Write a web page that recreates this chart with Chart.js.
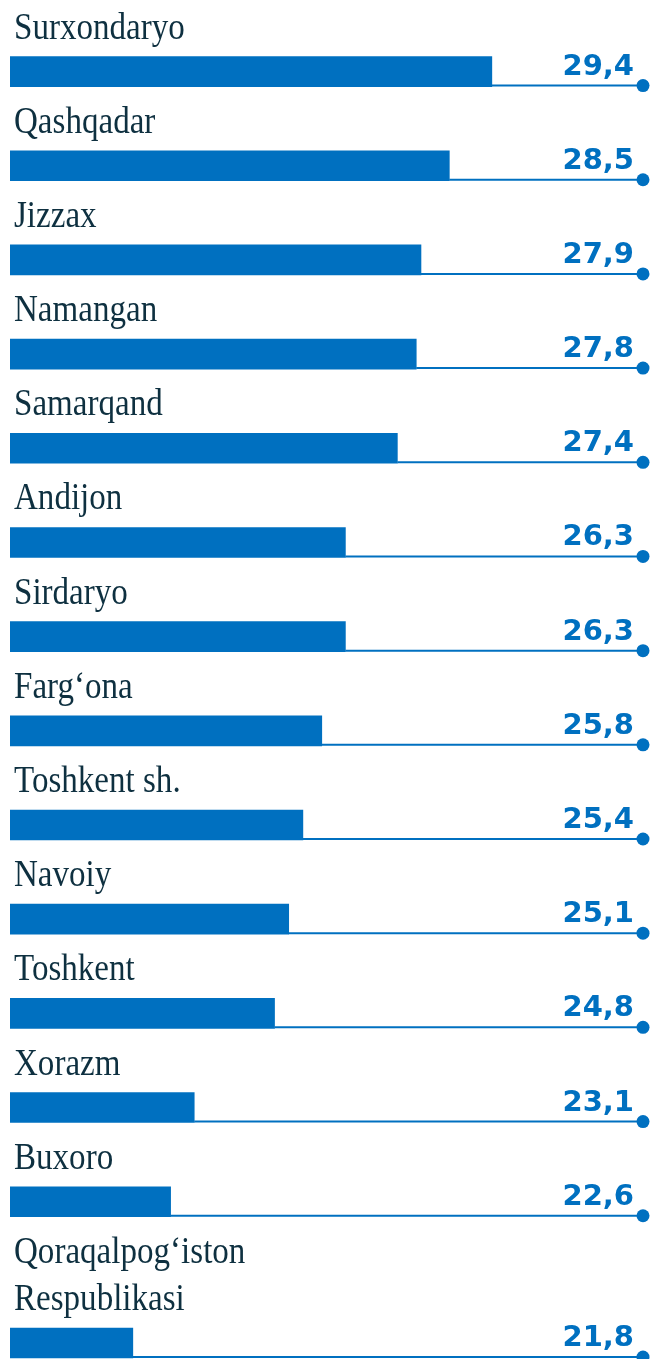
<!DOCTYPE html>
<html>
<head>
<meta charset="utf-8">
<script src="https://cdn.jsdelivr.net/npm/chart.js@4/dist/chart.umd.min.js"></script>
<style>
  html, body { margin: 0; padding: 0; background: #fff; }
  #wrap { width: 650px; height: 1359px; position: relative; }
</style>
</head>
<body>
<div id="wrap"><canvas id="regionChart"></canvas></div>
<script>
// regions, top to bottom
var regions = [
  ['Surxondaryo'], ['Qashqadar'], ['Jizzax'], ['Namangan'], ['Samarqand'],
  ['Andijon'], ['Sirdaryo'], ['Farg‘ona'], ['Toshkent sh.'], ['Navoiy'],
  ['Toshkent'], ['Xorazm'], ['Buxoro'], ['Qoraqalpog‘iston', 'Respublikasi']
];
var values = [29.4, 28.5, 27.9, 27.8, 27.4, 26.3, 26.3, 25.8, 25.4, 25.1, 24.8, 23.1, 22.6, 21.8];

var blue = '#0070c0';

// row index; a two-line name pushes its bar down by half a row
var rows = [];
var pos = 0;
regions.forEach(function (name, i) {
  if (i > 0) pos += 1 + 0.5 * (name.length - 1);
  rows.push(pos);
});

// thin track to the right edge, dot at its end, value and region name
var trackPlugin = {
  id: 'track',
  afterDatasetsDraw: function (chart) {
    var ctx = chart.ctx;
    var right = chart.chartArea.right;
    var meta = chart.getDatasetMeta(0);
    meta.data.forEach(function (bar, i) {
      var props = bar.getProps(['x', 'y', 'height'], true);
      var top = props.y - props.height / 2;
      var lineY = props.y + props.height / 2 - 1;
      ctx.save();
      ctx.strokeStyle = blue;
      ctx.lineWidth = 2;
      ctx.beginPath();
      ctx.moveTo(props.x, lineY);
      ctx.lineTo(right, lineY);
      ctx.stroke();
      ctx.fillStyle = blue;
      ctx.beginPath();
      ctx.arc(right, lineY, 6.5, 0, Math.PI * 2);
      ctx.fill();

      ctx.font = 'bold 29px "DejaVu Sans"';
      ctx.textAlign = 'right';
      ctx.textBaseline = 'alphabetic';
      ctx.fillText(values[i].toFixed(1).replace('.', ','), right - 9, lineY - 11);

      // names use a narrowed serif
      ctx.fillStyle = '#0e3040';
      ctx.font = '38px "Liberation Serif"';
      ctx.textAlign = 'left';
      var lines = regions[i];
      lines.forEach(function (txt, k) {
        var y = top - 18 - (lines.length - 1 - k) * 47;
        ctx.save();
        ctx.translate(14, y);
        ctx.scale(0.87, 1);
        ctx.fillText(txt, 0, 0);
        ctx.restore();
      });
      ctx.restore();
    });
  }
};

var ctx = document.getElementById('regionChart').getContext('2d');
new Chart(ctx, {
  type: 'bar',
  data: {
    datasets: [{
      data: values.map(function (v, i) { return { x: v, y: rows[i] }; }),
      backgroundColor: blue,
      borderWidth: 0,
      barThickness: 30
    }]
  },
  options: {
    indexAxis: 'y',
    responsive: true,
    maintainAspectRatio: false,
    animation: false,
    layout: { padding: { left: 10, right: 7, top: 0, bottom: 0 } },
    plugins: { legend: { display: false }, tooltip: { enabled: false } },
    scales: {
      x: { type: 'linear', min: 19.2, max: 32.6, display: false },
      y: { type: 'linear', reverse: true, min: -0.76, max: 13.67, offset: false, display: false }
    }
  },
  plugins: [trackPlugin]
});
</script>
</body>
</html>
